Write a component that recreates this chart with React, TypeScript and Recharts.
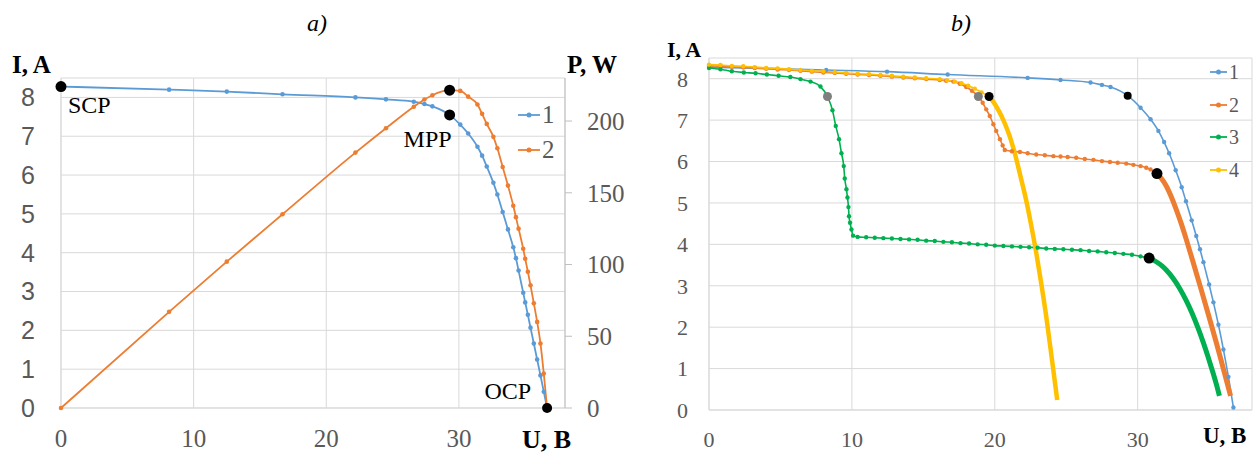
import React from 'react';
import { LineChart, Line, XAxis, YAxis, CartesianGrid, Legend, ReferenceDot } from 'recharts';

const SERIF = '"Liberation Serif", "Times New Roman", serif';
const SANS = '"Liberation Sans", Arial, sans-serif';
const GREY = '#595959';
const GRID = '#d9d9d9';

const BLUE = '#5b9bd5';
const ORANGE = '#ed7d31';
const GREEN = '#00b050';
const YELLOW = '#ffc000';

// ---- a) I-V (1) and P-V (2) of one module ----
const voltageA = [0, 8.15, 12.5, 16.7, 22.2, 24.5, 26.6, 27.4, 28.0, 29.3, 30.1, 30.7, 31.4, 31.75, 32.1, 32.6, 32.9, 33.3, 33.7, 34.1, 34.3, 34.5, 34.85, 35.0, 35.2, 35.4, 35.65, 35.9, 36.15, 36.4, 36.65];
const currentA = [8.28, 8.2, 8.15, 8.08, 8.0, 7.95, 7.89, 7.83, 7.77, 7.55, 7.3, 7.07, 6.73, 6.5, 6.22, 5.8, 5.5, 5.05, 4.6, 4.14, 3.86, 3.54, 2.97, 2.72, 2.4, 2.07, 1.66, 1.25, 0.84, 0.42, 0];
const powerA = [0, 67, 102, 135, 178, 195, 210, 215, 218, 221.5, 221, 217, 211.5, 205, 198, 189, 181, 168, 155, 141, 133, 125, 111, 104, 95, 85.5, 73, 60, 45, 24, 0];

const ticksUA = [0, 10, 20, 30];
const ticksIA = [0, 1, 2, 3, 4, 5, 6, 7, 8];
const ticksPA = [0, 50, 100, 150, 200];

const scpA = { u: 0, i: 8.28 };
const mppA = { u: 29.3, i: 7.55, p: 221.5 };
const ocpA = { u: 36.65, i: 0 };

// ---- b) I-V curves under partial shading ----
const u1B = [0, 8.2, 12.46, 16.7, 22.3, 24.6, 26.7, 27.5, 28.1, 29.3, 30.2, 30.9, 31.45, 31.85, 32.2, 32.66, 33.08, 33.38, 33.78, 34.1, 34.36, 34.6, 35.0, 35.3, 35.65, 36.0, 36.35, 36.7];
const i1B = [8.28, 8.21, 8.17, 8.1, 8.02, 7.97, 7.91, 7.85, 7.8, 7.59, 7.3, 7.02, 6.74, 6.47, 6.2, 5.79, 5.38, 5.04, 4.58, 4.2, 3.88, 3.57, 3.03, 2.6, 2.06, 1.46, 0.8, 0.06];

const u2B = [0, 0.8, 1.6, 2.4, 3.2, 4.0, 4.8, 5.6, 6.4, 7.2, 8.0, 8.8, 9.6, 10.4, 11.2, 12.0, 12.8, 13.6, 14.4, 15.2, 16.15, 16.6, 17.1, 17.55, 18.0, 18.4, 18.85, 19.15, 19.4, 19.65, 19.9, 20.1, 20.36, 20.55, 20.7, 21.2, 21.76, 22.3, 22.9, 23.5, 24.1, 24.6, 25.1, 25.7, 26.3, 26.9, 27.5, 28.06, 28.6, 29.2, 29.7, 30.2, 30.6, 30.9, 31.35];
const i2B = [8.31, 8.3, 8.29, 8.27, 8.26, 8.24, 8.22, 8.21, 8.19, 8.17, 8.15, 8.14, 8.12, 8.1, 8.09, 8.07, 8.05, 8.03, 8.01, 7.99, 7.97, 7.95, 7.93, 7.88, 7.8, 7.71, 7.57, 7.42, 7.26, 7.1, 6.9, 6.74, 6.54, 6.39, 6.28, 6.25, 6.23, 6.2, 6.17, 6.15, 6.13, 6.12, 6.11, 6.09, 6.06, 6.04, 6.01, 5.99, 5.97, 5.95, 5.92, 5.89, 5.85, 5.81, 5.71];
const u2Tail = [31.35, 31.7, 32.0, 32.35, 32.7, 33.05, 33.4, 33.75, 34.1, 34.45, 34.8, 35.15, 35.5, 35.8, 36.1, 36.5];
const i2Tail = [5.71, 5.57, 5.41, 5.15, 4.84, 4.5, 4.12, 3.72, 3.31, 2.9, 2.48, 2.06, 1.63, 1.25, 0.86, 0.34];

const u3B = [0, 0.8, 1.6, 2.44, 3.26, 4.05, 4.87, 5.69, 6.4, 7.1, 7.8, 8.29, 8.64, 8.87, 9.1, 9.27, 9.43, 9.5, 9.62, 9.69, 9.76, 9.8, 9.87, 9.97, 10.08, 10.4, 11.0, 11.6, 12.2, 12.8, 13.4, 14.0, 14.6, 15.2, 15.8, 16.4, 17.0, 17.6, 18.2, 18.8, 19.4, 20.0, 20.6, 21.2, 21.8, 22.4, 23.0, 23.6, 24.2, 24.8, 25.4, 26.0, 26.6, 27.2, 27.8, 28.4, 29.0, 29.6, 30.2, 30.8];
const i3B = [8.26, 8.23, 8.18, 8.15, 8.13, 8.1, 8.07, 8.04, 7.99, 7.93, 7.81, 7.57, 7.24, 6.86, 6.54, 6.2, 5.89, 5.59, 5.33, 5.13, 4.9, 4.68, 4.52, 4.36, 4.21, 4.18, 4.17, 4.16, 4.15, 4.14, 4.13, 4.12, 4.11, 4.09, 4.08, 4.06, 4.05, 4.03, 4.02, 4.0, 3.99, 3.97, 3.96, 3.95, 3.94, 3.93, 3.92, 3.9, 3.89, 3.88, 3.87, 3.86, 3.84, 3.83, 3.81, 3.79, 3.77, 3.75, 3.71, 3.67];
const u3Tail = [30.8, 31.3, 31.7, 32.0, 32.5, 32.9, 33.4, 33.8, 34.2, 34.6, 34.9, 35.2, 35.5, 35.72];
const i3Tail = [3.67, 3.58, 3.48, 3.38, 3.17, 2.96, 2.64, 2.34, 2.0, 1.62, 1.31, 0.98, 0.63, 0.34];

const u4B = [0, 0.8, 1.6, 2.4, 3.2, 4.0, 4.8, 5.6, 6.4, 7.2, 8.0, 8.8, 9.6, 10.4, 11.2, 12.0, 12.8, 13.6, 14.4, 15.2, 16.15, 16.67, 17.2, 17.67, 18.14, 18.6, 19.07, 19.6];
const i4B = [8.34, 8.33, 8.31, 8.3, 8.28, 8.26, 8.25, 8.23, 8.21, 8.19, 8.18, 8.16, 8.14, 8.12, 8.11, 8.09, 8.07, 8.05, 8.03, 8.01, 7.99, 7.96, 7.93, 7.89, 7.83, 7.76, 7.67, 7.57];
const u4Tail = [19.6, 20.0, 20.3, 20.6, 20.83, 21.0, 21.2, 21.4, 21.64, 21.9, 22.2, 22.55, 22.9, 23.25, 23.6, 24.0, 24.37];
const i4Tail = [7.57, 7.39, 7.21, 7.0, 6.81, 6.65, 6.44, 6.2, 5.87, 5.5, 5.06, 4.46, 3.8, 3.06, 2.26, 1.22, 0.24];

const ticksUB = [0, 10, 20, 30];
const ticksIB = [0, 1, 2, 3, 4, 5, 6, 7, 8];

// local (grey) and global (black) maxima
const mppB = [
  { u: 29.3, i: 7.59, r: 4, fill: '#000' },
  { u: 18.85, i: 7.57, r: 4.5, fill: '#7f7f7f' },
  { u: 31.35, i: 5.71, r: 5.5, fill: '#000' },
  { u: 8.29, i: 7.57, r: 4.5, fill: '#7f7f7f' },
  { u: 30.8, i: 3.67, r: 5.5, fill: '#000' },
  { u: 19.6, i: 7.57, r: 4.5, fill: '#000' },
];

const namesA = ['1', '2'];
const coloursA = [BLUE, ORANGE];
const namesB = ['1', '2', '3', '4'];
const coloursB = [BLUE, ORANGE, GREEN, YELLOW];

const zip = (u: number[], i: number[]) => u.map((v, k) => ({ u: v, i: i[k] }));
const rowsA = voltageA.map((u, k) => ({ u, i: currentA[k], p: powerA[k] }));

function LegendBox({ names, colours, fontSize, rowH, iconW }: any) {
  return (
    <div>
      {names.map((n: string, k: number) => (
        <div key={n} style={{ display: 'flex', alignItems: 'center', height: rowH }}>
          <svg width={iconW} height={8}>
            <line x1={0} y1={4} x2={iconW} y2={4} stroke={colours[k]} strokeWidth={1.8} />
            <circle cx={iconW / 2} cy={4} r={2.5} fill={colours[k]} />
          </svg>
          <span style={{ marginLeft: 2, fontFamily: SERIF, fontSize, color: GREY, lineHeight: 1 }}>{n}</span>
        </div>
      ))}
    </div>
  );
}

const annot = (text: string, dx: number, dy: number, anchor: string) => (props: any) => {
  const vb = props.viewBox || {};
  const cx = (vb.x ?? 0) + (vb.width ?? 0) / 2;
  const cy = (vb.y ?? 0) + (vb.height ?? 0) / 2;
  return (
    <text x={cx + dx} y={cy + dy} textAnchor={anchor} fontFamily={SERIF} fontSize={24} fill="#000">
      {text}
    </text>
  );
};

// a single-point series so that the marker is painted above the curves
const marker = (pt: any, r: number, fill: string, yAxisId?: string, key?: any) => (
  <Line
    key={key}
    yAxisId={yAxisId}
    data={[pt]}
    dataKey={yAxisId === 'right' ? 'p' : 'i'}
    stroke="none"
    legendType="none"
    dot={{ r, fill, stroke: fill, strokeWidth: 0 }}
    isAnimationActive={false}
  />
);

function PanelA() {
  return (
    <LineChart width={640} height={456} data={rowsA} margin={{ top: 78, right: 0, bottom: 8, left: 0 }}>
      <CartesianGrid stroke={GRID} yAxisId="left" />
      <XAxis
        dataKey="u"
        type="number"
        domain={[0, 38]}
        ticks={ticksUA}
        height={40}
        stroke={GRID}
        tickLine={false}
        tickSize={0}
        tickMargin={21}
        tick={{ fontSize: 25, fill: GREY, fontFamily: SERIF }}
      />
      <YAxis
        yAxisId="left"
        domain={[0, 8.5]}
        ticks={ticksIA}
        width={61}
        stroke={GRID}
        tickLine={false}
        tickSize={0}
        tickMargin={26}
        tick={{ fontSize: 25, fill: GREY, fontFamily: SANS }}
      />
      <YAxis
        yAxisId="right"
        orientation="right"
        domain={[0, 230]}
        ticks={ticksPA}
        width={75}
        stroke="#bfbfbf"
        tickSize={7}
        tickMargin={15}
        tick={{ fontSize: 25, fill: GREY, fontFamily: SERIF }}
      />
      <ReferenceDot yAxisId="left" x={scpA.u} y={scpA.i} r={5.5} fill="none" stroke="none" label={annot('SCP', 7, 26, 'start')} />
      <ReferenceDot yAxisId="left" x={mppA.u} y={mppA.i} r={5.5} fill="none" stroke="none" label={annot('MPP', 2, 32, 'end')} />
      <ReferenceDot yAxisId="left" x={ocpA.u} y={ocpA.i} r={5} fill="none" stroke="none" label={annot('OCP', -16, -9, 'end')} />
      <Line yAxisId="left" dataKey="i" name={namesA[0]} stroke={coloursA[0]} strokeWidth={1.8} type="monotone"
        dot={{ r: 2.3, fill: coloursA[0], stroke: coloursA[0], strokeWidth: 0 }} isAnimationActive={false} />
      <Line yAxisId="right" dataKey="p" name={namesA[1]} stroke={coloursA[1]} strokeWidth={1.8} type="monotone"
        dot={{ r: 2.3, fill: coloursA[1], stroke: coloursA[1], strokeWidth: 0 }} isAnimationActive={false} />
      {marker(scpA, 5.5, '#000', 'left', 'scp')}
      {marker(mppA, 5.5, '#000', 'left', 'mppi')}
      {marker(mppA, 5.5, '#000', 'right', 'mppp')}
      {marker(ocpA, 5, '#000', 'left', 'ocp')}
      <Legend
        layout="vertical"
        align="center"
        verticalAlign="middle"
        wrapperStyle={{ left: 518, top: 97, width: 60 }}
        content={<LegendBox names={namesA} colours={coloursA} fontSize={25} rowH={35} iconW={22} />}
      />
      <text x={12} y={73} fontFamily={SERIF} fontWeight="bold" fontSize={25} fill="#000">I, A</text>
      <text x={567} y={73} fontFamily={SERIF} fontWeight="bold" fontSize={25} fill="#000">P, W</text>
      <text x={522} y={448} fontFamily={SERIF} fontWeight="bold" fontSize={26} fill="#000">U, B</text>
      <text x={317} y={31} textAnchor="middle" fontFamily={SERIF} fontStyle="italic" fontSize={24} fill="#000">a)</text>
    </LineChart>
  );
}

function PanelB() {
  const thin = (c: string) => ({ r: 2.2, fill: c, stroke: c, strokeWidth: 0 });
  return (
    <LineChart width={616} height={456} margin={{ top: 58, right: 4, bottom: 8, left: 0 }}>
      <CartesianGrid stroke={GRID} />
      <XAxis
        dataKey="u"
        type="number"
        domain={[0, 38]}
        ticks={ticksUB}
        height={38}
        stroke={GRID}
        tickLine={false}
        tickSize={0}
        tickMargin={21}
        tick={{ fontSize: 22, fill: GREY, fontFamily: SERIF }}
      />
      <YAxis
        domain={[0, 8.5]}
        ticks={ticksIB}
        width={69}
        stroke={GRID}
        tickLine={false}
        tickSize={0}
        tickMargin={21}
        tick={{ fontSize: 22, fill: GREY, fontFamily: SERIF }}
      />
      <Line data={zip(u1B, i1B)} dataKey="i" name={namesB[0]} stroke={BLUE} strokeWidth={1.6} type="monotone" dot={thin(BLUE)} isAnimationActive={false} />
      <Line data={zip(u2B, i2B)} dataKey="i" name={namesB[1]} stroke={ORANGE} strokeWidth={1.6} type="monotone" dot={thin(ORANGE)} isAnimationActive={false} />
      <Line data={zip(u2Tail, i2Tail)} dataKey="i" legendType="none" stroke={ORANGE} strokeWidth={5} type="monotone" dot={false} isAnimationActive={false} />
      <Line data={zip(u3B, i3B)} dataKey="i" name={namesB[2]} stroke={GREEN} strokeWidth={1.6} type="monotone" dot={thin(GREEN)} isAnimationActive={false} />
      <Line data={zip(u3Tail, i3Tail)} dataKey="i" legendType="none" stroke={GREEN} strokeWidth={5} type="monotone" dot={false} isAnimationActive={false} />
      <Line data={zip(u4B, i4B)} dataKey="i" name={namesB[3]} stroke={YELLOW} strokeWidth={1.6} type="monotone" dot={thin(YELLOW)} isAnimationActive={false} />
      <Line data={zip(u4Tail, i4Tail)} dataKey="i" legendType="none" stroke={YELLOW} strokeWidth={4.5} type="monotone" dot={false} isAnimationActive={false} />
      {mppB.map((m, k) => marker({ u: m.u, i: m.i }, m.r, m.fill, undefined, k))}
      <Legend
        layout="vertical"
        align="center"
        verticalAlign="middle"
        wrapperStyle={{ left: 570, top: 56, width: 46 }}
        content={<LegendBox names={namesB} colours={coloursB} fontSize={20} rowH={32.5} iconW={17} />}
      />
      <text x={27} y={57} fontFamily={SERIF} fontWeight="bold" fontSize={22} fill="#000">I, A</text>
      <text x={563} y={443} fontFamily={SERIF} fontWeight="bold" fontSize={23} fill="#000">U, B</text>
      <text x={321} y={31} textAnchor="middle" fontFamily={SERIF} fontStyle="italic" fontSize={24} fill="#000">b)</text>
    </LineChart>
  );
}

export default function App() {
  return (
    <div style={{ position: 'absolute', left: 0, top: 0, width: 1256, height: 456, background: '#fff' }}>
      <div style={{ position: 'absolute', left: 0, top: 0 }}>
        <PanelA />
      </div>
      <div style={{ position: 'absolute', left: 640, top: 0 }}>
        <PanelB />
      </div>
    </div>
  );
}
